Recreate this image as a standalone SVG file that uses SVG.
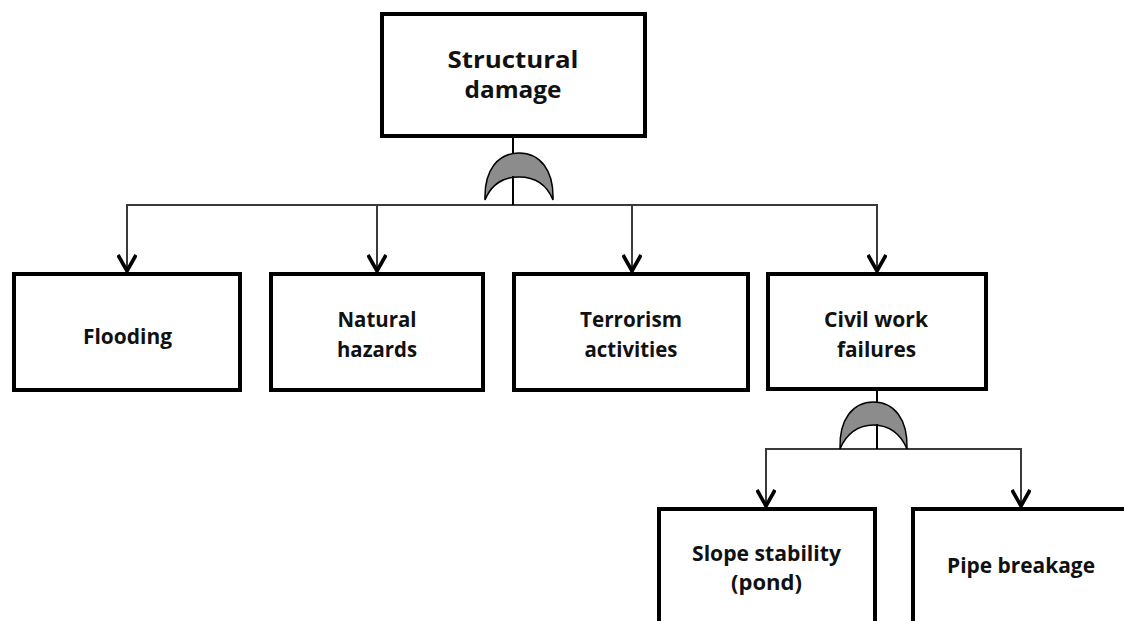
<svg xmlns="http://www.w3.org/2000/svg" width="1124" height="621" viewBox="0 0 1124 621">
  <defs>
    <style>
      .box { fill: #ffffff; stroke: #000000; stroke-width: 4; }
      .lbl { font-family: "Open Sans", "Liberation Sans", sans-serif; font-weight: bold; fill: #111111; text-anchor: middle; }
      .big { font-size: 24px; }
      .med { font-size: 22px; }
      .wire { fill: none; stroke: #3a3a3a; stroke-width: 2; }
      .stem { fill: none; stroke: #000000; stroke-width: 2; }
      .gate { fill: #8c8c8c; stroke: #000000; stroke-width: 1.5; stroke-linejoin: miter; }
    </style>
    <!-- open V arrowhead; drawn along +x so orient="auto" follows the line -->
    <marker id="vhead" viewBox="0 0 20 20" refX="18" refY="10" markerWidth="20" markerHeight="20" markerUnits="userSpaceOnUse" orient="auto">
      <path d="M2,1 L18,10 L2,19" fill="none" stroke="#000000" stroke-width="3.6" stroke-linejoin="miter"/>
    </marker>
  </defs>

  <rect width="1124" height="621" fill="#ffffff"/>

  <!-- connectors -->
  <g id="connectors">
    <!-- top OR gate tree -->
    <line class="stem" x1="513" y1="138" x2="513" y2="205"/>
    <line class="wire" x1="126" y1="205" x2="878" y2="205"/>
    <path class="wire" d="M127,205 V271" marker-end="url(#vhead)"/>
    <path class="wire" d="M377,205 V271" marker-end="url(#vhead)"/>
    <path class="wire" d="M632,205 V271" marker-end="url(#vhead)"/>
    <path class="wire" d="M877,205 V271" marker-end="url(#vhead)"/>
    <!-- lower OR gate tree -->
    <line class="stem" x1="877" y1="390" x2="877" y2="449"/>
    <line class="wire" x1="765" y1="449" x2="1022" y2="449"/>
    <path class="wire" d="M766,449 V506" marker-end="url(#vhead)"/>
    <path class="wire" d="M1021,449 V506" marker-end="url(#vhead)"/>
  </g>

  <!-- OR gates -->
  <g id="gate-top">
    <path class="gate" d="M485,200 C484,170 498,153 519,153 C540,153 554,170 553,200 C547,185 535,177 519,177 C503,177 491,185 485,200 Z"/>
    <line class="stem" x1="513" y1="176" x2="513" y2="205"/>
  </g>
  <g id="gate-civil">
    <path class="gate" d="M840,449 C839,419 853,402 873.5,402 C894,402 908,419 907,449 C901,434 889,425 873.5,425 C858,425 846,434 840,449 Z"/>
    <line class="stem" x1="877" y1="424" x2="877" y2="449"/>
  </g>

  <!-- nodes -->
  <g id="structural-damage">
    <rect class="box" x="382" y="14" width="263" height="122"/>
    <text class="lbl big" x="513" y="68" textLength="131" lengthAdjust="spacingAndGlyphs">Structural</text>
    <text class="lbl big" x="513" y="98" textLength="97" lengthAdjust="spacingAndGlyphs">damage</text>
  </g>

  <g id="flooding">
    <rect class="box" x="14" y="274" width="226" height="116"/>
    <text class="lbl med" x="127.5" y="344" textLength="89" lengthAdjust="spacingAndGlyphs">Flooding</text>
  </g>

  <g id="natural-hazards">
    <rect class="box" x="271" y="274" width="212" height="116"/>
    <text class="lbl med" x="377" y="327" textLength="79" lengthAdjust="spacingAndGlyphs">Natural</text>
    <text class="lbl med" x="377" y="357" textLength="80" lengthAdjust="spacingAndGlyphs">hazards</text>
  </g>

  <g id="terrorism-activities">
    <rect class="box" x="514" y="274" width="234" height="116"/>
    <text class="lbl med" x="631" y="327" textLength="102" lengthAdjust="spacingAndGlyphs">Terrorism</text>
    <text class="lbl med" x="631" y="357" textLength="93" lengthAdjust="spacingAndGlyphs">activities</text>
  </g>

  <g id="civil-work-failures">
    <rect class="box" x="768" y="274" width="218" height="115"/>
    <text class="lbl med" x="876" y="327" textLength="104" lengthAdjust="spacingAndGlyphs">Civil work</text>
    <text class="lbl med" x="876.5" y="357" textLength="79" lengthAdjust="spacingAndGlyphs">failures</text>
  </g>

  <g id="slope-stability">
    <rect class="box" x="659" y="509" width="216" height="130"/>
    <text class="lbl med" x="766.5" y="561" textLength="149" lengthAdjust="spacingAndGlyphs">Slope stability</text>
    <text class="lbl med" x="766.5" y="590" textLength="71" lengthAdjust="spacingAndGlyphs">(pond)</text>
  </g>

  <g id="pipe-breakage">
    <rect class="box" x="913" y="509" width="230" height="130"/>
    <text class="lbl med" x="1021" y="573" textLength="148" lengthAdjust="spacingAndGlyphs">Pipe breakage</text>
  </g>
</svg>
